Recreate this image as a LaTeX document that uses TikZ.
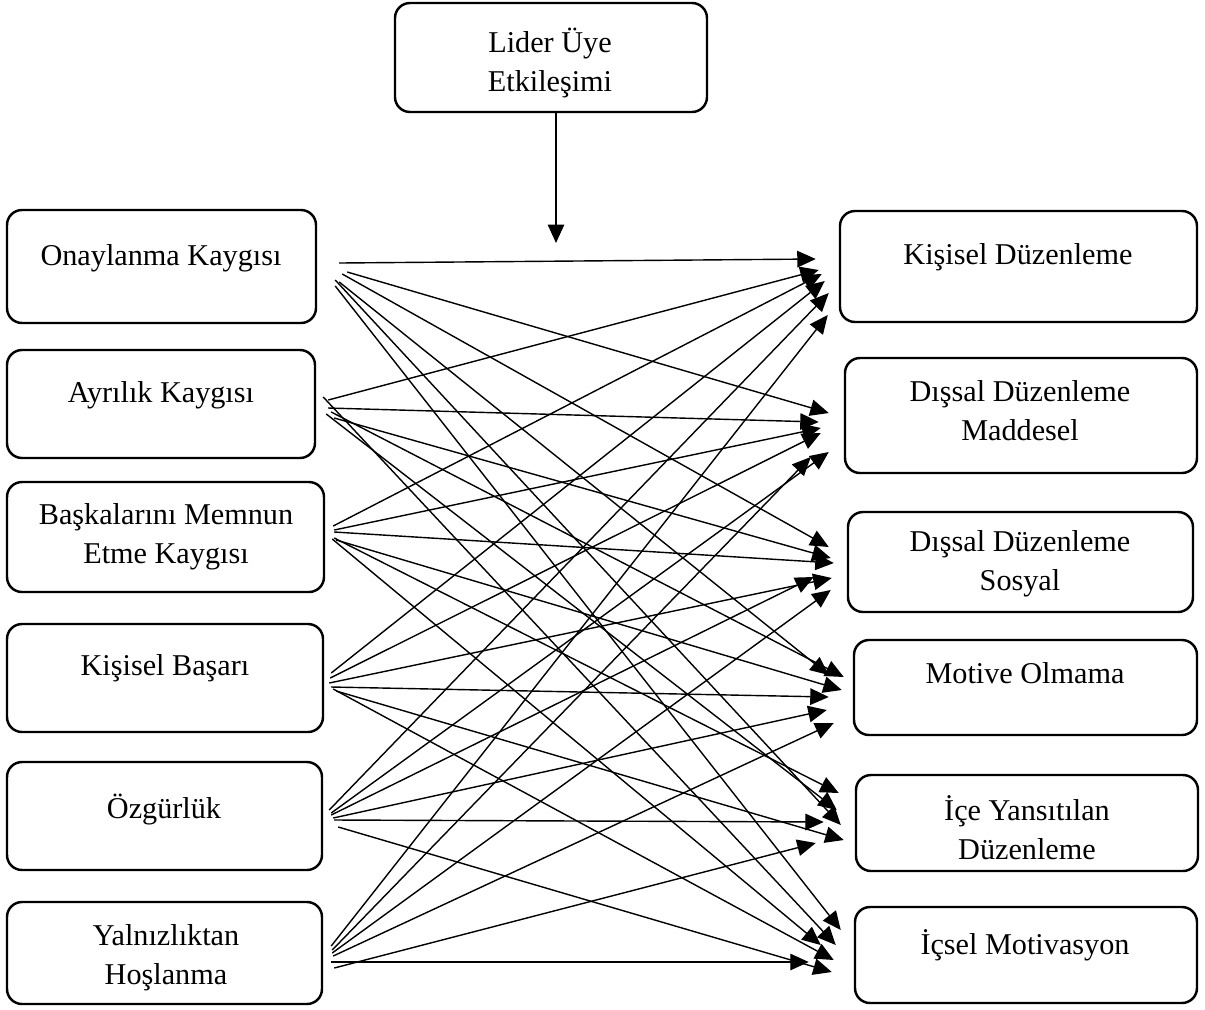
\documentclass[tikz,border=0pt]{standalone}
\usepackage{fontspec}
\setmainfont{Liberation Serif}
\usetikzlibrary{arrows.meta,calc}
\begin{document}
\begin{tikzpicture}[x=0.02cm,y=-0.02cm,
  box/.style={draw, line width=1.4pt, rounded corners=0.3cm, inner sep=0pt},
  lbl/.style={font=\fontsize{17.2}{22.2}\selectfont, align=center, inner sep=0pt},
  link/.style={line width=0.8pt, -{Triangle[length=0.37cm,width=0.33cm]}},
]
\useasboundingbox (0,0) rectangle (1205,1009);

% moderator box
\node[box, minimum width=312*0.02cm, minimum height=109*0.02cm] (T) at (551,57.5) {};
\node[lbl] (Tt) at (550,63) {Lider Üye\\Etkileşimi};

% left column: predictors
\node[box, minimum width=309*0.02cm, minimum height=113*0.02cm] (L1) at (161.5,266.5) {};
\node[box, minimum width=308*0.02cm, minimum height=108*0.02cm] (L2) at (161,404) {};
\node[box, minimum width=317*0.02cm, minimum height=110*0.02cm] (L3) at (165.5,537) {};
\node[box, minimum width=316*0.02cm, minimum height=108*0.02cm] (L4) at (165,678) {};
\node[box, minimum width=315*0.02cm, minimum height=108*0.02cm] (L5) at (164.5,816) {};
\node[box, minimum width=315*0.02cm, minimum height=102*0.02cm] (L6) at (164.5,953) {};

\node[lbl] (L1t) at (161,258) {Onaylanma Kaygısı};
\node[lbl] (L2t) at (161,395) {Ayrılık Kaygısı};
\node[lbl] (L3t) at (166,537) {Başkalarını Memnun\\Etme Kaygısı};
\node[lbl] (L4t) at (165,668) {Kişisel Başarı};
\node[lbl] (L5t) at (164,810) {Özgürlük};
\node[lbl] (L6t) at (166,958) {Yalnızlıktan\\Hoşlanma};

% right column: outcomes
\node[box, minimum width=357*0.02cm, minimum height=111*0.02cm] (R1) at (1018.5,266.5) {};
\node[box, minimum width=352*0.02cm, minimum height=115*0.02cm] (R2) at (1021,415.5) {};
\node[box, minimum width=345*0.02cm, minimum height=100*0.02cm] (R3) at (1020.5,562) {};
\node[box, minimum width=343*0.02cm, minimum height=95*0.02cm] (R4) at (1025.5,687.5) {};
\node[box, minimum width=342*0.02cm, minimum height=96*0.02cm] (R5) at (1027,823) {};
\node[box, minimum width=342*0.02cm, minimum height=96*0.02cm] (R6) at (1026,955) {};

\node[lbl] (R1t) at (1018,257) {Kişisel Düzenleme};
\node[lbl] (R2t) at (1020,411) {Dışsal Düzenleme\\Maddesel};
\node[lbl] (R3t) at (1020,564) {Dışsal Düzenleme\\Sosyal};
\node[lbl] (R4t) at (1025,673) {Motive Olmama};
\node[lbl] (R5t) at (1027,828) {İçe Yansıtılan\\Düzenleme};
\node[lbl] (R6t) at (1025,945) {İçsel Motivasyon};

% moderator arrow with open end
\coordinate (Tend) at (556,243);
\draw[link] ($(T.south)+(5,0)$) -- (Tend);

% every predictor to every outcome: i/j/start offset/end offset
\foreach \i/\j/\sx/\sy/\ex/\ey in {
  1/1/22/-3.5/-23/-7.5, 1/2/30/5.5/-15/-2.5, 1/3/25/7.5/-18/-15,
  1/4/22/15.5/-24/-12.5, 1/5/18/13.5/-14/2, 1/6/18/19.5/-13/-25,
  2/1/12/-4/-20/3.5, 2/2/12/4/-25/6.5, 2/3/18/14/-16/-4,
  2/4/15/8/-9/-10.5, 2/5/10/10/-18/-13, 2/6/7/-7/-18/-10,
  3/1/8/-11/-17/7.5, 3/2/9/-7/-23/12.5, 3/3/9/-5/-13/1,
  3/4/11/3/-11/2.5, 3/5/9/1/-16/-30, 3/6/7/2/-33/-10,
  4/1/7/-5/-14/14.5, 4/2/6/0/-23/17.5, 4/3/5/5/-15/16,
  4/4/7/9/-24/9.5, 4/5/12/13/-11/17, 4/6/9/11/-20/5,
  5/1/6/-6/-10/26.5, 5/2/8/-3/-15/36.5, 5/3/8/-1/-33/15,
  5/4/10/2/-26/22.5, 5/5/11/4/-31/-1, 5/6/15/11/-22/17,
  6/1/8/-7/-11/48.5, 6/2/9/-3/-33/41.5, 6/3/9/0/-16/28,
  6/4/10/3/-19/35.5, 6/5/11/15/-39/20, 6/6/8/9/-45/7}
  \draw[link] ($(L\i.east)+(\sx,\sy)$) -- ($(R\j.west)+(\ex,\ey)$);
\end{tikzpicture}
\end{document}
